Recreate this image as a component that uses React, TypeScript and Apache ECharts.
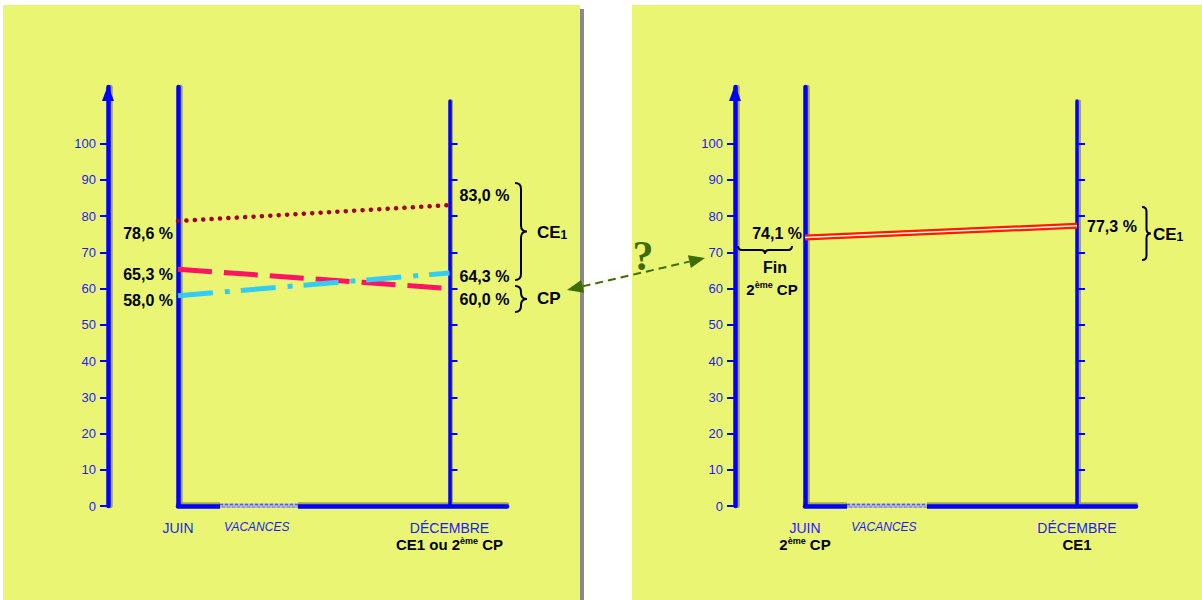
import React, { useEffect, useRef } from "react";
import * as echarts from "echarts";

// ---------- data ----------
const months = ["JUIN", "DÉCEMBRE"];
const monthPos = [0, 1];
const holidayLabel = "VACANCES";
const holidayPos = 0.29;
const yTickValues = [0, 10, 20, 30, 40, 50, 60, 70, 80, 90, 100];
const rightTickValues = [10, 20, 30, 40, 50, 60, 70, 80, 90, 100];

const leftDotted = [78.6, 83.0]; // CE1 (pointillés)
const leftDashed = [65.3, 60.0]; // CP (tirets)
const leftDashDot = [58.0, 64.3]; // CE1 (tiret-point)
const rightDouble = [74.1, 77.3]; // Fin 2ème CP -> CE1

// label nudges (layout only)
const nudgeDotted = [12, -10];
const nudgeDashed = [5, 11];
const nudgeDashDot = [5, 4];
const nudgeDouble = [-4, 1];

// ---------- style ----------
const BG = "#eaf574";
const BLUE = "#0000ff";
const LBLUE = "#1c1cf0";
const SHADOW = "#8f9450";
const GREEN = "#3d6c00";
const FONT = '"Liberation Sans", Arial, Helvetica, sans-serif';
const PXU = 3.625;

const Brace = (echarts as any).graphic.extendShape({
  type: "brace",
  shape: { x: 0, y: 0, w: 10, h: 100, dir: "right" },
  buildPath(ctx: any, s: any) {
    const { x, y, w, h, dir } = s;
    if (dir === "right") {
      const r = w / 2;
      ctx.moveTo(x, y);
      ctx.quadraticCurveTo(x + r, y, x + r, y + r);
      ctx.lineTo(x + r, y + h / 2 - r);
      ctx.quadraticCurveTo(x + r, y + h / 2, x + w, y + h / 2);
      ctx.moveTo(x + w, y + h / 2);
      ctx.quadraticCurveTo(x + r, y + h / 2, x + r, y + h / 2 + r);
      ctx.lineTo(x + r, y + h - r);
      ctx.quadraticCurveTo(x + r, y + h, x, y + h);
    } else {
      const r = h / 2;
      ctx.moveTo(x, y);
      ctx.quadraticCurveTo(x, y + r, x + r, y + r);
      ctx.lineTo(x + w / 2 - r, y + r);
      ctx.quadraticCurveTo(x + w / 2, y + r, x + w / 2, y + h);
      ctx.moveTo(x + w / 2, y + h);
      ctx.quadraticCurveTo(x + w / 2, y + r, x + w / 2 + r, y + r);
      ctx.lineTo(x + w - r, y + r);
      ctx.quadraticCurveTo(x + w, y + r, x + w, y);
    }
  },
});
(echarts as any).graphic.registerShape("brace", Brace);

const axisLineStyle = { color: BLUE, width: 4.5 };
const shadowLineStyle = { color: SHADOW, width: 4.5, opacity: 0.8 };

function fmtPct(v: number) {
  return v.toFixed(1).replace(".", ",") + " %";
}

function buildData(values: number[], nudges: number[] | null, distL: number, distR: number) {
  return values.map((v, i) => {
    const item: any = { value: [monthPos[i], v] };
    if (nudges) {
      item.label = {
        show: true,
        position: i === 0 ? "left" : "right",
        distance: i === 0 ? distL : distR,
        offset: [0, nudges[i]],
        formatter: () => fmtPct(v),
        color: "#000",
        fontWeight: "bold",
        fontSize: 16,
        fontFamily: FONT,
      };
    }
    return item;
  });
}

function panelAxes(gA: number, gB: number, wA: number, wB: number, subLabels: string[]) {
  const richX = {
    m: { color: LBLUE, fontSize: 14, fontFamily: FONT, lineHeight: 16 },
    v: { color: LBLUE, fontSize: 12, fontStyle: "italic", fontFamily: FONT, lineHeight: 14 },
    b: { color: "#000", fontSize: 15, fontWeight: "bold", fontFamily: FONT, lineHeight: 17 },
    s: { color: "#000", fontSize: 9, fontWeight: "bold", fontFamily: FONT, lineHeight: 17, verticalAlign: "top" },
  };
  const sub = (t: string) => {
    if (!t) return "";
    const parts = t.split("ème");
    if (parts.length === 1) return "\n{b|" + t + "}";
    return "\n{b|" + parts[0] + "}{s|ème}{b|" + parts[1] + "}";
  };
  const xAxes = [
    {
      gridIndex: gA,
      type: "value",
      min: 0,
      max: wA / wB,
      position: "bottom",
      z: 3,
      axisLine: { show: true, onZero: false, lineStyle: axisLineStyle },
      axisTick: { show: false },
      splitLine: { show: false },
      axisLabel: {
        show: true,
        customValues: [monthPos[0], holidayPos, monthPos[1]],
        margin: 14,
        rich: richX,
        formatter: (v: number) => {
          if (Math.abs(v - monthPos[0]) < 1e-6) return "{m|" + months[0] + "}" + sub(subLabels[0]);
          if (Math.abs(v - monthPos[1]) < 1e-6) return "{m|" + months[1] + "}" + sub(subLabels[1]);
          return "{v|" + holidayLabel + "}";
        },
      },
    },
    {
      gridIndex: gA,
      type: "value",
      min: 0,
      max: wA / wB,
      position: "bottom",
      offset: -2,
      z: 1,
      axisLine: { show: true, onZero: false, lineStyle: shadowLineStyle },
      axisTick: { show: false },
      axisLabel: { show: false },
      splitLine: { show: false },
    },
    {
      gridIndex: gB,
      type: "value",
      min: 0,
      max: 1,
      show: false,
    },
  ];
  const maxA = 419 / PXU;
  const maxB = 405 / PXU;
  const tickStyle = { color: BLUE, width: 2 };
  const yAxes = [
    {
      gridIndex: gA,
      type: "value",
      min: 0,
      max: maxA,
      position: "left",
      offset: 70,
      z: 3,
      axisLine: {
        show: true,
        onZero: false,
        symbol: ["none", "triangle"],
        symbolSize: [12, 16],
        symbolOffset: [0, -6],
        lineStyle: axisLineStyle,
      },
      axisTick: { show: true, inside: false, length: 8, customValues: yTickValues, lineStyle: tickStyle },
      axisLabel: {
        show: true,
        customValues: yTickValues,
        margin: 12,
        color: LBLUE,
        fontSize: 13,
        fontFamily: FONT,
      },
      splitLine: { show: false },
    },
    {
      gridIndex: gA,
      type: "value",
      min: 0,
      max: maxA,
      position: "left",
      offset: 0,
      z: 3,
      axisLine: { show: true, onZero: false, lineStyle: axisLineStyle },
      axisTick: { show: false },
      axisLabel: { show: false },
      splitLine: { show: false },
    },
    {
      gridIndex: gB,
      type: "value",
      min: 0,
      max: maxB,
      position: "right",
      z: 3,
      axisLine: { show: true, onZero: false, lineStyle: { ...axisLineStyle, width: 3.5 } },
      axisTick: { show: true, inside: false, length: 8, customValues: rightTickValues, lineStyle: tickStyle },
      axisLabel: { show: false },
      splitLine: { show: false },
    },
    {
      gridIndex: gA,
      type: "value",
      min: 0,
      max: maxA * 0.995,
      position: "left",
      offset: 68,
      z: 1,
      axisLine: { show: true, onZero: false, lineStyle: shadowLineStyle },
      axisTick: { show: false },
      axisLabel: { show: false },
      splitLine: { show: false },
    },
    {
      gridIndex: gA,
      type: "value",
      min: 0,
      max: maxA * 0.995,
      position: "left",
      offset: -2,
      z: 1,
      axisLine: { show: true, onZero: false, lineStyle: shadowLineStyle },
      axisTick: { show: false },
      axisLabel: { show: false },
      splitLine: { show: false },
    },
    {
      gridIndex: gB,
      type: "value",
      min: 0,
      max: maxB * 0.995,
      position: "right",
      offset: 2,
      z: 1,
      axisLine: { show: true, onZero: false, lineStyle: { ...shadowLineStyle, width: 3 } },
      axisTick: { show: false },
      axisLabel: { show: false },
      splitLine: { show: false },
    },
  ];
  return { xAxes, yAxes };
}

function arrowHead(tip: number[], from: number[], len: number, half: number) {
  const dx = tip[0] - from[0];
  const dy = tip[1] - from[1];
  const L = Math.hypot(dx, dy);
  const ux = dx / L, uy = dy / L;
  const bx = tip[0] - ux * len, by = tip[1] - uy * len;
  return [
    [tip[0], tip[1]],
    [bx - uy * half, by + ux * half],
    [bx + uy * half, by - ux * half],
  ];
}

export default function App() {
  const ref = useRef<HTMLDivElement>(null);

  useEffect(() => {
    if (!ref.current) return;
    const chart = echarts.init(ref.current, null, { renderer: "svg" });

    const L = panelAxes(0, 1, 329, 271.5, ["", "CE1 ou 2ème CP"]);
    const R = panelAxes(2, 3, 331, 272, ["2ème CP", "CE1"]);

    const tipL = [567, 290];
    const tipR = [705, 258];
    const headR = arrowHead(tipR, tipL, 16, 6.5);
    const headL = arrowHead(tipL, tipR, 16, 6.5);

    const braceStyle = { fill: "none", stroke: "#000", lineWidth: 2 };
    const bold = (size: number) => "bold " + size + "px " + FONT;
    const richCE = {
      a: { fontSize: 17, fontWeight: "bold", fontFamily: FONT, fill: "#000", color: "#000" },
      b: { fontSize: 12, fontWeight: "bold", fontFamily: FONT, fill: "#000", color: "#000", verticalAlign: "bottom", padding: [5, 0, 0, 0] },
    };

    const hatch = (x: number, w: number) => [
      { type: "rect", z: 50, shape: { x: x, y: 502, width: w, height: 9 }, style: { fill: BG } },
      { type: "rect", z: 51, shape: { x: x, y: 503.5, width: w, height: 4.5 }, style: { fill: "#b4b8dc" } },
      {
        type: "line",
        z: 52,
        shape: { x1: x, y1: 504.5, x2: x + w, y2: 504.5 },
        style: { stroke: "#5d5dc0", lineWidth: 1.5, lineDash: [3, 2] },
      },
      {
        type: "line",
        z: 52,
        shape: { x1: x + 2, y1: 507, x2: x + w, y2: 507 },
        style: { stroke: "#8080c0", lineWidth: 1.2, lineDash: [3, 2] },
      },
    ];

    const seriesCommon = {
      type: "line",
      z: 5,
      symbol: "circle",
      symbolSize: 0.1,
      showSymbol: true,
      itemStyle: { color: "rgba(0,0,0,0)" },
    };

    const option: any = {
      animation: false,
      backgroundColor: "#ffffff",
      grid: [
        { left: 178, top: 87, width: 329, height: 419, outerBoundsMode: "none", containLabel: false },
        { left: 178, top: 101, width: 271.5, height: 405, outerBoundsMode: "none", containLabel: false },
        { left: 805, top: 87, width: 331, height: 419, outerBoundsMode: "none", containLabel: false },
        { left: 805, top: 101, width: 272, height: 405, outerBoundsMode: "none", containLabel: false },
      ],
      xAxis: [...L.xAxes, ...R.xAxes],
      yAxis: [...L.yAxes, ...R.yAxes],
      series: [
        {
          ...seriesCommon,
          name: "CE1 (pointillés)",
          xAxisIndex: 0,
          yAxisIndex: 0,
          lineStyle: { color: "#a3001e", width: 4.5, type: [0.1, 8.3], cap: "round" },
          data: buildData(leftDotted, nudgeDotted, 5, 10),
        },
        {
          ...seriesCommon,
          name: "CP (tirets)",
          xAxisIndex: 0,
          yAxisIndex: 0,
          lineStyle: { color: "#ff1464", width: 5, type: [34, 12] },
          data: buildData(leftDashed, nudgeDashed, 5, 10),
        },
        {
          ...seriesCommon,
          name: "CE1 (tiret-point)",
          xAxisIndex: 0,
          yAxisIndex: 0,
          lineStyle: { color: "#33ccf5", width: 5, type: [35, 12, 5, 11] },
          data: buildData(leftDashDot, nudgeDashDot, 5, 10),
        },
        {
          ...seriesCommon,
          name: "Fin 2ème CP → CE1",
          xAxisIndex: 3,
          yAxisIndex: 6,
          lineStyle: { color: "#ff1a00", width: 6 },
          data: buildData(rightDouble, nudgeDouble, 3, 10),
        },
        {
          name: "Fin 2ème CP → CE1 (centre)",
          type: "line",
          xAxisIndex: 3,
          yAxisIndex: 6,
          z: 6,
          symbol: "none",
          lineStyle: { color: "#fff4e0", width: 1.5 },
          data: buildData(rightDouble, null, 3, 10),
        },
      ],
      graphic: [
        { type: "rect", z: -10, shape: { x: 3, y: 5, width: 577, height: 595 }, style: { fill: BG } },
        { type: "rect", z: -10, shape: { x: 580, y: 9, width: 4, height: 591 }, style: { fill: "#8a8a8a" } },
        { type: "rect", z: -10, shape: { x: 632, y: 5, width: 570, height: 595 }, style: { fill: BG } },
        ...hatch(220, 78),
        ...hatch(847, 80),
        { type: "brace", z: 60, shape: { x: 515, y: 183, w: 12, h: 97, dir: "right" }, style: braceStyle },
        { type: "brace", z: 60, shape: { x: 515, y: 286, w: 12, h: 26, dir: "right" }, style: braceStyle },
        {
          type: "text",
          z: 60,
          x: 537,
          y: 232,
          style: { text: "{a|CE}{b|1}", rich: richCE, verticalAlign: "middle", align: "left" },
        },
        {
          type: "text",
          z: 60,
          x: 537,
          y: 298,
          style: { text: "CP", font: bold(17), fill: "#000", verticalAlign: "middle", align: "left" },
        },
        { type: "brace", z: 60, shape: { x: 1142, y: 207, w: 9, h: 53, dir: "right" }, style: braceStyle },
        {
          type: "text",
          z: 60,
          x: 1153,
          y: 234,
          style: { text: "{a|CE}{b|1}", rich: richCE, verticalAlign: "middle", align: "left" },
        },
        { type: "brace", z: 60, shape: { x: 738, y: 246, w: 54, h: 8, dir: "down" }, style: braceStyle },
        {
          type: "text",
          z: 60,
          x: 775,
          y: 267,
          style: { text: "Fin", font: bold(16), fill: "#000", verticalAlign: "middle", align: "center" },
        },
        {
          type: "text",
          z: 60,
          x: 772,
          y: 289,
          style: {
            text: "{a|2}{s|ème}{a| CP}",
            align: "center",
            verticalAlign: "middle",
            rich: {
              a: { fontSize: 15, fontWeight: "bold", fontFamily: FONT, color: "#000", lineHeight: 18 },
              s: { fontSize: 9, fontWeight: "bold", fontFamily: FONT, color: "#000", verticalAlign: "top", lineHeight: 18 },
            },
          },
        },
        {
          type: "line",
          z: 70,
          shape: {
            x1: (headL[1][0] + headL[2][0]) / 2,
            y1: (headL[1][1] + headL[2][1]) / 2,
            x2: (headR[1][0] + headR[2][0]) / 2,
            y2: (headR[1][1] + headR[2][1]) / 2,
          },
          style: { stroke: GREEN, lineWidth: 2, lineDash: [8, 5] },
        },
        { type: "polygon", z: 70, shape: { points: headR }, style: { fill: GREEN } },
        { type: "polygon", z: 70, shape: { points: headL }, style: { fill: GREEN } },
        {
          type: "text",
          z: 70,
          x: 643,
          y: 256,
          style: {
            text: "?",
            font: 'bold 42px "Liberation Serif", "DejaVu Serif", serif',
            fill: GREEN,
            align: "center",
            verticalAlign: "middle",
          },
        },
      ],
    };

    chart.setOption(option);
    return () => chart.dispose();
  }, []);

  return (
    <div
      ref={ref}
      style={{ position: "absolute", left: 0, top: 0, width: 1202, height: 600 }}
    />
  );
}
